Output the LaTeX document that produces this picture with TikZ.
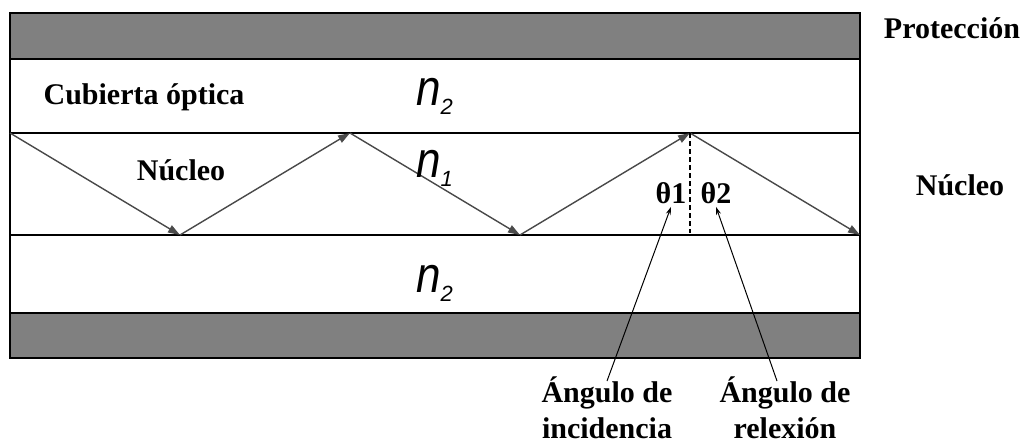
\documentclass[tikz,border=0pt]{standalone}
\usepackage{fontspec}
\setmainfont{Liberation Serif}
\newfontfamily\arialfont{Liberation Sans}
\usetikzlibrary{arrows.meta,positioning,calc}
\definecolor{shieldgray}{HTML}{808080}
\definecolor{raygray}{HTML}{4A4A4A}
\newcommand\nsub[1]{\scalebox{1}[1.15]{n}\raisebox{-0.22em}{\fontsize{22}{22}\selectfont #1}}

\begin{document}
\begin{tikzpicture}[x=1pt, y=-1pt,
  band/.style={draw, line width=1.6pt},
  tag/.style={font=\fontsize{30}{36}\selectfont\bfseries, inner sep=0pt, align=center},
  nidx/.style={font=\arialfont\fontsize{44}{44}\selectfont\itshape, inner sep=0pt, anchor=base west},
  ray/.style={draw=raygray, line width=1.4pt, -{Triangle[length=12pt,width=8pt]}},
  pointer/.style={line width=1pt, -{Stealth[length=8pt,width=5pt]}}
]
\useasboundingbox (0,0) rectangle (1022,445);

\path[band, fill=shieldgray] (10,13) rectangle (860,59);
\path[band] (10,59) rectangle (860,133);
\path[band] (10,133) rectangle (860,235);
\path[band] (10,235) rectangle (860,313);
\path[band, fill=shieldgray] (10,313) rectangle (860,358);

\foreach \i/\x/\y in {0/10/133,1/180/235,2/350/133,3/520/235,4/690/133,5/860/235}
  \coordinate (v\i) at (\x,\y);
\foreach \a/\b in {0/1,1/2,2/3,3/4,4/5} \draw[ray] (v\a) -- (v\b);
\coordinate (foot) at (690,233);
\draw[line width=1.3pt, dash pattern=on 5pt off 3pt] (v4) -- (foot);

\node[tag] (cub) at (144,97) {Cubierta óptica};
\node[tag] (nuc) at (181,170) {Núcleo};
\node[tag] (prot) at (952,28) {Protección};
\node[tag] (nucr) at (960,185) {Núcleo};

\node[nidx] (n2a) at (416,105) {\nsub{2}};
\node[nidx] (n1) at (416,177) {\nsub{1}};
\node[nidx] (n2b) at (416,292) {\nsub{2}};

\node[tag] (t1) at (671,193) {θ1};
\node[tag] (t2) at (716,193) {θ2};

\node[tag, anchor=north] (inc) at (607,377) {Ángulo de\\incidencia};
\node[tag, anchor=north] (rel) at (785,377) {Ángulo de\\relexión};
\draw[pointer] ([yshift=-4pt]inc.north) -- ([yshift=-3pt]t1.south);
\draw[pointer] ([xshift=-8pt,yshift=-4pt]rel.north) -- ([yshift=-3pt]t2.south);
\end{tikzpicture}
\end{document}
